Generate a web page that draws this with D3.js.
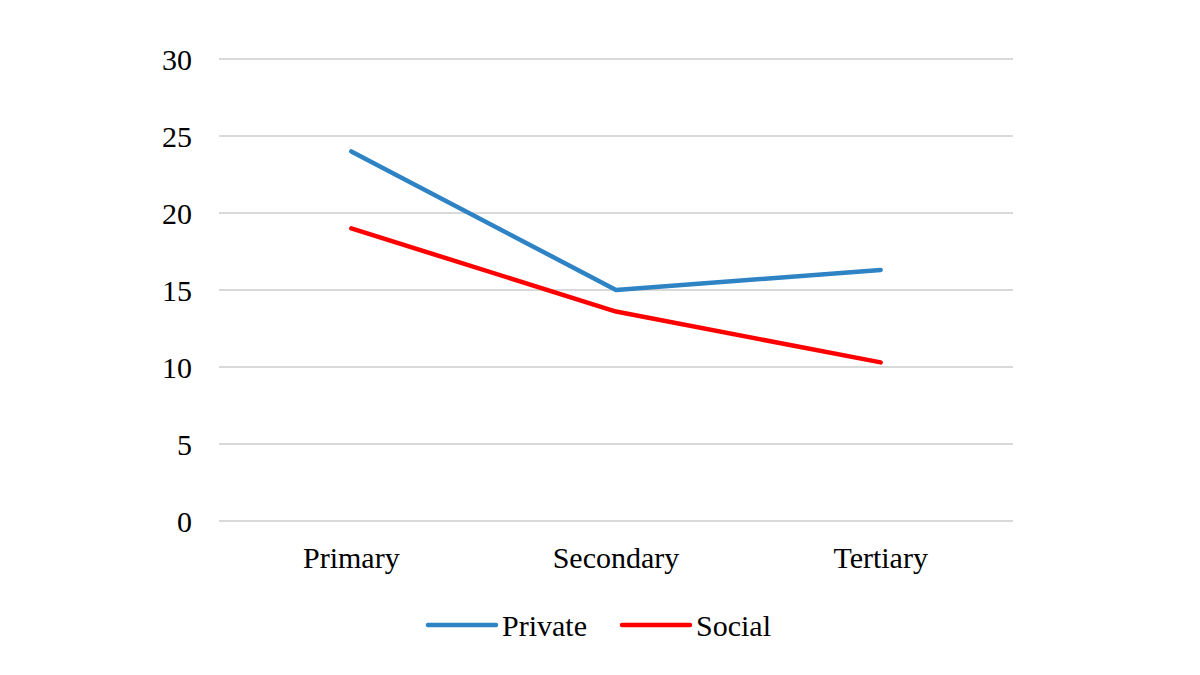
<!DOCTYPE html>
<html><head><meta charset="utf-8">
<script src="https://cdn.jsdelivr.net/npm/d3@7"></script>
<style>body{margin:0;background:#fff}</style></head>
<body><svg id="c" width="1200" height="675"></svg>
<script>
const categories = ["Primary","Secondary","Tertiary"];
const privateVals = [24, 15, 16.3];
const socialVals = [19, 13.6, 10.3];
const yTicks = [0,5,10,15,20,25,30];
const series = [
  {name:"Private", values: privateVals, color:"#2E83C4"},
  {name:"Social", values: socialVals, color:"#FF0000"}
];
const svg = d3.select("#c");
const font = "Liberation Serif, Times New Roman, serif";
const fs = 30;
const x = d3.scaleBand().domain(categories).range([219,1013]);
const y = d3.scaleLinear().domain([0,30]).range([521,59]);
const g = svg.append("g");
yTicks.forEach(t=>{
  g.append("line").attr("x1",219).attr("x2",1013).attr("y1",y(t)).attr("y2",y(t))
   .attr("stroke","#d9d9d9").attr("stroke-width",2);
  g.append("text").attr("x",192).attr("y",y(t)).attr("dy","0.35em").attr("text-anchor","end")
   .attr("font-family",font).attr("font-size",fs).attr("fill","#000").text(t);
});
categories.forEach(c=>{
  g.append("text").attr("x",x(c)+x.bandwidth()/2).attr("y",568).attr("text-anchor","middle")
   .attr("font-family",font).attr("font-size",fs).attr("fill","#000").text(c);
});
const line = d3.line().x((d,i)=>x(categories[i])+x.bandwidth()/2).y(d=>y(d));
series.forEach(s=>{
  g.append("path").attr("d",line(s.values)).attr("fill","none").attr("stroke",s.color)
   .attr("stroke-width",4.5).attr("stroke-linejoin","round").attr("stroke-linecap","round");
});
const legX = [428, 622];
series.forEach((s,i)=>{
  g.append("line").attr("x1",legX[i]).attr("x2",legX[i]+68).attr("y1",625).attr("y2",625)
   .attr("stroke",s.color).attr("stroke-width",4.5).attr("stroke-linecap","round");
  g.append("text").attr("x",legX[i]+74).attr("y",625).attr("dy","0.35em")
   .attr("font-family",font).attr("font-size",fs).attr("fill","#000").text(s.name);
});
</script></body></html>
